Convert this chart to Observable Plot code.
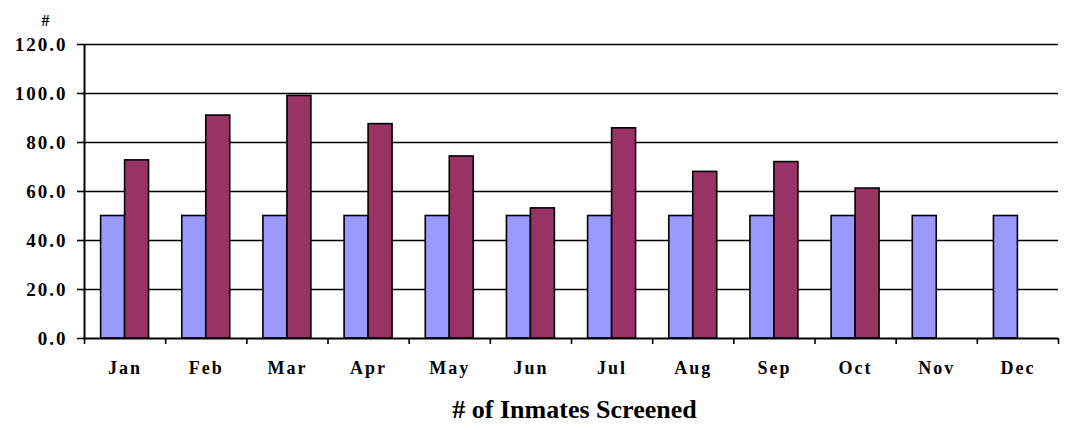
<!DOCTYPE html>
<html>
<head>
<meta charset="utf-8">
<script src="https://cdn.jsdelivr.net/npm/d3@7"></script>
<script src="https://cdn.jsdelivr.net/npm/@observablehq/plot@0.6"></script>
<style>
  body { margin: 0; background: white; }
  svg, svg text { font-family: "Liberation Serif", "Times New Roman", serif !important; font-weight: bold; }
  g[aria-label="x-axis tick label"] text { letter-spacing: 2px; }
  g[aria-label="y-axis tick label"] text { letter-spacing: 2px; }
</style>
</head>
<body>
<div id="chart"></div>
<script>
const months = ["Jan","Feb","Mar","Apr","May","Jun","Jul","Aug","Sep","Oct","Nov","Dec"];
const target = [50, 50, 50, 50, 50, 50, 50, 50, 50, 50, 50, 50];
const screened = [72.7, 91.0, 99.0, 87.5, 74.3, 53.1, 85.8, 68.0, 72.0, 61.2, null, null];
const yTicks = [0, 20, 40, 60, 80, 100, 120];
const yLabel = "#";
const title = "# of Inmates Screened";

const targetRows = months.map((m, i) => ({i, m, v: target[i]}));
const screenedRows = months.map((m, i) => ({i, m, v: screened[i]})).filter(d => d.v != null);
const serif = "Liberation Serif";

const chart = Plot.plot({
  width: 1066,
  height: 430,
  marginLeft: 84,
  marginRight: 8,
  marginTop: 44,
  marginBottom: 92,
  style: {fontFamily: serif, fontWeight: "bold", background: "white", color: "black"},
  x: {domain: [0, 12], axis: null},
  y: {domain: [0, 120], axis: null},
  marks: [
    Plot.ruleY(yTicks.filter(t => t > 0), {stroke: "black", strokeWidth: 1.6}),
    Plot.axisY({ticks: yTicks, tickFormat: d3.format(".1f"), tickSize: 7, tickPadding: 10, fontSize: 19, fontFamily: serif, label: null, strokeWidth: 1.6, strokeOpacity: 1}),
    Plot.rectY(targetRows, {x1: d => d.i, x2: d => d.i + 1, y1: 0, y2: "v", fill: "#9999FF", stroke: "black", strokeWidth: 1.6, insetLeft: 16.6, insetRight: 40.6}),
    Plot.rectY(screenedRows, {x1: d => d.i, x2: d => d.i + 1, y1: 0, y2: "v", fill: "#993366", stroke: "black", strokeWidth: 1.6, insetLeft: 40.6, insetRight: 16.6}),
    Plot.ruleX([0], {y1: 0, y2: 120, stroke: "black", strokeWidth: 2}),
    Plot.ruleY([0], {stroke: "black", strokeWidth: 2}),
    Plot.axisX({ticks: d3.range(13), tickSize: 6, tickFormat: () => "", label: null, strokeWidth: 1.6, strokeOpacity: 1}),
    Plot.axisX({ticks: months.map((m, i) => i + 0.5), tickSize: 0, tickPadding: 23, tickFormat: t => months[Math.floor(t)], fontSize: 18, fontFamily: serif, label: null}),
    Plot.text([yLabel], {frameAnchor: "top-left", dx: -43, dy: -30, fontSize: 16, fontFamily: serif, fontWeight: "bold", fill: "black"}),
    Plot.text([title], {frameAnchor: "bottom", dx: 3, dy: 79, fontSize: 26, fontFamily: serif, fontWeight: "bold", fill: "black"})
  ]
});
document.getElementById("chart").appendChild(chart);
</script>
</body>
</html>
